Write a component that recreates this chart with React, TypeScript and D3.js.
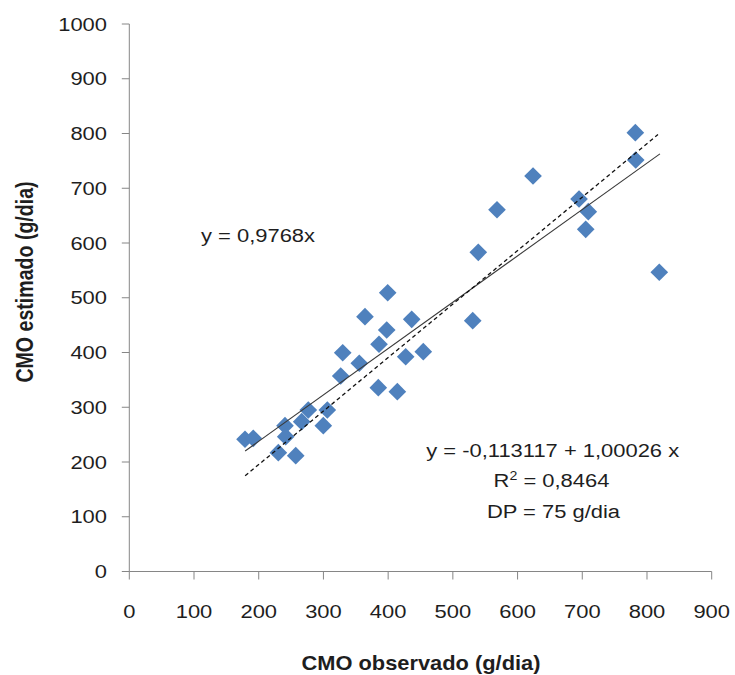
import React from "react";
import * as d3 from "d3";

const observed = [178.8, 191.6, 240.6, 241.7, 230.3, 257.2, 266.4, 276.6, 299.8, 306.0, 326.7, 329.8, 355.4, 364.2, 384.8, 385.9, 397.8, 399.3, 414.2, 427.1, 436.4, 454.3, 530.7, 539.3, 568.2, 623.9, 695.0, 709.3, 705.3, 782.0, 782.6, 819.0];
const estimated = [241.5, 243.3, 266.3, 246.2, 217.0, 211.5, 273.6, 295.0, 266.3, 295.0, 357.1, 399.6, 380.3, 465.4, 335.7, 415.0, 441.1, 509.2, 328.4, 392.3, 460.6, 401.5, 458.1, 583.0, 660.8, 722.4, 680.4, 657.2, 625.0, 801.5, 751.6, 546.5];

const xTicks = [0, 100, 200, 300, 400, 500, 600, 700, 800, 900];
const yTicks = [0, 100, 200, 300, 400, 500, 600, 700, 800, 900, 1000];

// trend lines
const fitIntercept = 68.6;
const fitSlope = 0.8465;
const fitRange = [179, 820];
const originSlope = 0.9768;
const originRange = [179, 817];

const eqOrigin = "y = 0,9768x";
const eqFit = "y = -0,113117 + 1,00026 x";
const eqR2 = "0,8464";
const eqDP = "DP = 75 g/dia";
const xTitle = "CMO observado (g/dia)";
const yTitle = "CMO estimado (g/dia)";

const FONT = "'Liberation Sans', Arial, sans-serif";
const SX = 1.18;

function T({ x, y, anchor = "start", size = 18.6, weight = "normal", sx = SX, children }: any) {
  return (
    <g transform={`translate(${x},${y}) scale(${sx},1)`}>
      <text x={0} y={0} textAnchor={anchor} fontFamily={FONT} fontSize={size} fontWeight={weight} fill="#1e1e1e">
        {children}
      </text>
    </g>
  );
}

export default function App() {
  const W = 735, H = 675;
  const x = d3.scaleLinear().domain([0, 900]).range([129.3, 711.7]);
  const y = d3.scaleLinear().domain([0, 1000]).range([571.5, 24]);
  const axisColor = "#868686";
  const diamond = d3.symbol().type(d3.symbolSquare).size(156)();
  const line = d3.line<[number, number]>().x(d => x(d[0])).y(d => y(d[1]));
  const fitPts: [number, number][] = fitRange.map(v => [v, fitIntercept + fitSlope * v]);
  const oriPts: [number, number][] = originRange.map(v => [v, originSlope * v]);

  return (
    <svg width={W} height={H} style={{ position: "absolute", left: 0, top: 0, background: "#fff" }}>
      {/* axes */}
      <line x1={x(0)} x2={x(0)} y1={y(0)} y2={y(1000)} stroke={axisColor} strokeWidth={1} />
      <line x1={x(0)} x2={x(900)} y1={y(0)} y2={y(0)} stroke={axisColor} strokeWidth={1} />
      {yTicks.map(t => (
        <g key={"yt" + t}>
          <line x1={x(0) - 7.5} x2={x(0)} y1={y(t)} y2={y(t)} stroke={axisColor} />
          <T x={107} y={y(t) + 6.6} anchor="end">{String(t)}</T>
        </g>
      ))}
      {xTicks.map(t => (
        <g key={"xt" + t}>
          <line x1={x(t)} x2={x(t)} y1={y(0)} y2={y(0) + 8} stroke={axisColor} />
          <T x={x(t)} y={618.3} anchor="middle">{String(t)}</T>
        </g>
      ))}

      {/* points */}
      {observed.map((o, i) => (
        <path key={"p" + i} d={diamond as string} transform={`translate(${x(o)},${y(estimated[i])}) rotate(45)`} fill="#4F81BD" />
      ))}

      {/* trend lines */}
      <path d={line(fitPts) as string} stroke="#3a3a3a" strokeWidth={1.1} fill="none" />
      <path d={line(oriPts) as string} stroke="#111" strokeWidth={1.3} strokeDasharray="4,3" fill="none" />

      {/* annotations */}
      <T x={201} y={241.7}>{eqOrigin}</T>
      <T x={552.7} y={456.7} anchor="middle">{eqFit}</T>
      <T x={551.5} y={486.7} anchor="middle">R<tspan dy={-7} fontSize={12}>2</tspan><tspan dy={7}>{" = " + eqR2}</tspan></T>
      <T x={553.5} y={517.7} anchor="middle">{eqDP}</T>

      {/* axis titles */}
      <T x={421} y={670} anchor="middle" size={19.5} weight="bold" sx={1.12}>{xTitle}</T>
      <g transform={`translate(33.3,282) scale(1.2,1) rotate(-90)`}>
        <text x={0} y={0} textAnchor="middle" fontFamily={FONT} fontSize={19.6} fontWeight="bold" fill="#1e1e1e">{yTitle}</text>
      </g>
    </svg>
  );
}
